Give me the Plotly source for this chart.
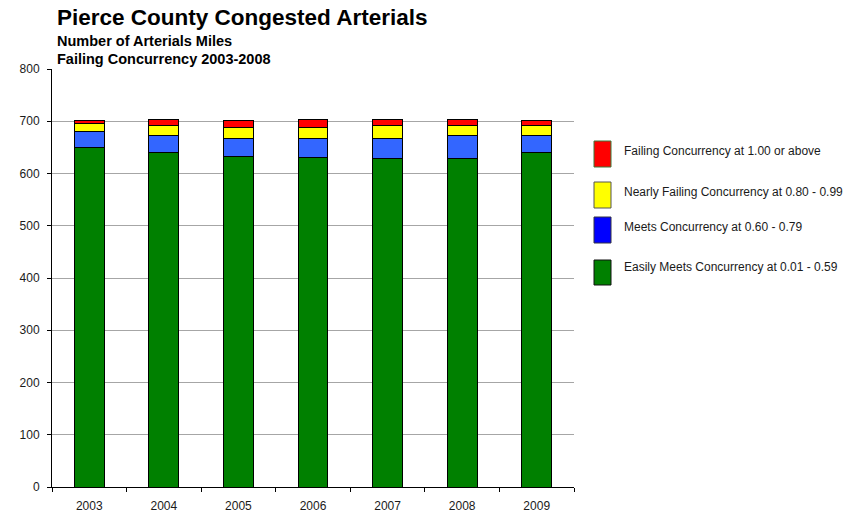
import plotly.graph_objects as go

# Arterial miles by concurrency level, per year
years = ["2003", "2004", "2005", "2006", "2007", "2008", "2009"]
easily_meets = [649, 641, 632, 630, 628, 628, 641]
meets = [32, 31, 35, 37, 39, 45, 32]
nearly_failing = [15, 19, 21, 21, 24, 19, 18]
failing = [5, 12, 14, 16, 13, 12, 11]

series_names = [
    "Easily Meets Concurrency at 0.01 - 0.59",
    "Meets Concurrency at 0.60 - 0.79",
    "Nearly Failing Concurrency at 0.80 - 0.99",
    "Failing Concurrency at 1.00 or above",
]
series_values = [easily_meets, meets, nearly_failing, failing]
bar_colors = ["#008000", "#3366FF", "#FFFF00", "#FF0000"]
swatch_colors = ["#008000", "#0000FF", "#FFFF00", "#FF0000"]
swatch_borders = ["#111111", "#333344", "#555555", "#3a7a3a"]

W, H = 863, 513
L, R, T, B = 52, 289, 69, 26
plot_w = W - L - R
plot_h = H - T - B


def px_x(px):
    return (px - L) / plot_w


def px_y(py):
    return (H - B - py) / plot_h


fig = go.Figure()
for name, vals, col in zip(series_names, series_values, bar_colors):
    fig.add_trace(go.Bar(
        x=years, y=vals, name=name,
        marker=dict(color=col, line=dict(color="#000000", width=1)),
        showlegend=False,
    ))

font_family = "Liberation Sans, Arial, sans-serif"

fig.update_layout(
    width=W, height=H,
    margin=dict(l=L, r=R, t=T, b=B, pad=0),
    barmode="stack",
    bargap=0.6,
    plot_bgcolor="white",
    paper_bgcolor="white",
    font=dict(family=font_family, size=12, color="#1a1a1a"),
    xaxis=dict(
        showline=True, linecolor="#000000", linewidth=1,
        ticks="outside", tickson="boundaries", ticklen=4,
        tickcolor="#000000", showgrid=False, automargin=False,
        tickfont=dict(size=12), ticklabelstandoff=8,
    ),
    yaxis=dict(
        range=[0, 800], dtick=100,
        showline=True, linecolor="#000000", linewidth=1,
        ticks="outside", ticklen=4, tickcolor="#000000",
        showgrid=True, gridcolor="#A6A6A6", gridwidth=1,
        zeroline=False, automargin=False,
        tickfont=dict(size=12), ticklabelstandoff=5,
    ),
)

# Titles
titles = [
    ("Pierce County Congested Arterials", 22.5, 17.5),
    ("Number of Arterials Miles", 14.5, 41),
    ("Failing Concurrency 2003-2008", 14.5, 59),
]
for text, size, py in titles:
    fig.add_annotation(
        text=f"<b>{text}</b>", x=px_x(55), y=px_y(py),
        xref="paper", yref="paper", xanchor="left", yanchor="middle",
        showarrow=False, font=dict(size=size, color="#000000"),
    )

# Legend drawn as swatches with labels (top to bottom: red, yellow, blue, green)
legend_rows = [
    (3, 141, 167, 151),
    (2, 182, 208, 192),
    (1, 217, 243, 227),
    (0, 260, 285, 267),
]
for idx, y0, y1, ty in legend_rows:
    fig.add_shape(
        type="rect", xref="paper", yref="paper",
        x0=px_x(594), x1=px_x(611), y0=px_y(y1), y1=px_y(y0),
        fillcolor=swatch_colors[idx],
        line=dict(color=swatch_borders[idx], width=1),
    )
    fig.add_annotation(
        text=series_names[idx], x=px_x(622), y=px_y(ty),
        xref="paper", yref="paper", xanchor="left", yanchor="middle",
        showarrow=False, font=dict(size=12, color="#1a1a1a"),
    )

fig.write_html("out.html")
